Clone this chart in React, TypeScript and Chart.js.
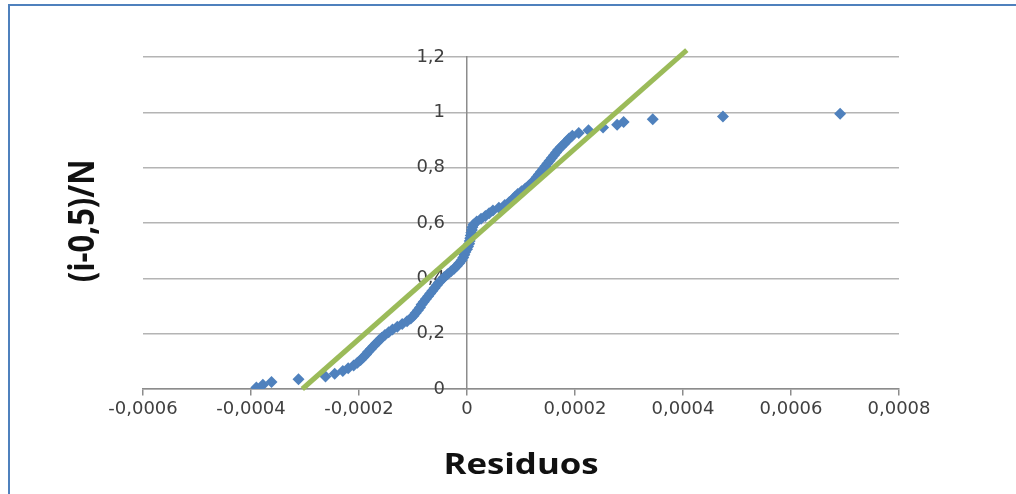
import React, { useEffect, useRef } from 'react';
import { Chart, registerables } from 'chart.js';

Chart.register(...registerables);

// Sorted residuals (x) and their plotting positions (i-0,5)/N (y)
const residuals = [
  -0.000390, -0.000378, -0.000362, -0.000312, -0.000262, -0.000245, -0.000230, -0.000220, -0.000210, -0.000203,
  -0.000197, -0.000192, -0.000187, -0.000183, -0.000178, -0.000173, -0.000168, -0.000163, -0.000158, -0.000152,
  -0.000145, -0.000138, -0.000129, -0.000120, -0.000111, -0.000104, -0.000099, -0.000095, -0.000091, -0.000087,
  -0.000084, -0.000080, -0.000076, -0.000072, -0.000068, -0.000064, -0.000060, -0.000056, -0.000052, -0.000047,
  -0.000042, -0.000036, -0.000030, -0.000024, -0.000019, -0.000014, -0.000010, -0.000007, -0.000005, -0.000003,
  0.000000, 0.000002, 0.000004, 0.000005, 0.000006, 0.000007, 0.000008, 0.000009, 0.000010, 0.000012,
  0.000018, 0.000026, 0.000034, 0.000041, 0.000048, 0.000059, 0.000070, 0.000078, 0.000084, 0.000089,
  0.000094, 0.000101, 0.000108, 0.000114, 0.000120, 0.000125, 0.000129, 0.000133, 0.000137, 0.000141,
  0.000145, 0.000149, 0.000153, 0.000157, 0.000161, 0.000165, 0.000169, 0.000174, 0.000179, 0.000184,
  0.000189, 0.000195, 0.000207, 0.000225, 0.000252, 0.000278, 0.000290, 0.000344, 0.000474, 0.000691,
];

const probabilities = [
  0.005, 0.015, 0.025, 0.035, 0.045, 0.055, 0.065, 0.075, 0.085, 0.095,
  0.105, 0.115, 0.125, 0.135, 0.145, 0.155, 0.165, 0.175, 0.185, 0.195,
  0.205, 0.215, 0.225, 0.235, 0.245, 0.255, 0.265, 0.275, 0.285, 0.295,
  0.305, 0.315, 0.325, 0.335, 0.345, 0.355, 0.365, 0.375, 0.385, 0.395,
  0.405, 0.415, 0.425, 0.435, 0.445, 0.455, 0.465, 0.475, 0.485, 0.495,
  0.505, 0.515, 0.525, 0.535, 0.545, 0.555, 0.565, 0.575, 0.585, 0.595,
  0.605, 0.615, 0.625, 0.635, 0.645, 0.655, 0.665, 0.675, 0.685, 0.695,
  0.705, 0.715, 0.725, 0.735, 0.745, 0.755, 0.765, 0.775, 0.785, 0.795,
  0.805, 0.815, 0.825, 0.835, 0.845, 0.855, 0.865, 0.875, 0.885, 0.895,
  0.905, 0.915, 0.925, 0.935, 0.945, 0.955, 0.965, 0.975, 0.985, 0.995,
];

// Fitted (green) reference line end points
const fitLineX = [-0.000305, 0.000407];
const fitLineY = [0, 1.225];

const xTickLabels = ['-0,0006', '-0,0004', '-0,0002', '0', '0,0002', '0,0004', '0,0006', '0,0008'];
const yTickLabels = ['0', '0,2', '0,4', '0,6', '0,8', '1', '1,2'];

const xAxisTitle = 'Residuos';
const yAxisTitle = '(i-0,5)/N';

export default function App() {
  const ref = useRef<HTMLCanvasElement>(null);

  useEffect(() => {
    if (!ref.current) return;

    const decor = {
      id: 'decor',
      beforeDraw(chart: any) {
        const ctx = chart.ctx;
        ctx.save();
        ctx.fillStyle = '#ffffff';
        ctx.fillRect(0, 0, chart.width, chart.height);
        ctx.strokeStyle = '#4F81BD';
        ctx.lineWidth = 2;
        ctx.strokeRect(9, 5, 1300, 700);
        ctx.restore();
      },
      afterDraw(chart: any) {
        const ctx = chart.ctx;
        ctx.save();
        ctx.fillStyle = '#111111';
        ctx.font = 'bold 29px "Open Sans"';
        ctx.textAlign = 'center';
        ctx.textBaseline = 'alphabetic';
        ctx.save();
        ctx.translate(521, 474);
        ctx.scale(1.2, 1);
        ctx.fillText(xAxisTitle, 0, 0);
        ctx.restore();
        ctx.font = 'bold 31px "Open Sans"';
        ctx.textBaseline = 'middle';
        ctx.save();
        ctx.translate(84, 221);
        ctx.rotate(-Math.PI / 2);
        ctx.scale(1, 1.15);
        ctx.fillText(yAxisTitle, 0, 0);
        ctx.restore();
        ctx.restore();
      },
    };

    const tickFont = { family: '"DejaVu Sans"', size: 18 };

    const chart = new Chart(ref.current, {
      type: 'scatter',
      data: {
        datasets: [
          {
            label: 'fit',
            data: fitLineX.map((x, i) => ({ x, y: fitLineY[i] })),
            showLine: true,
            borderColor: '#9BBB59',
            backgroundColor: '#9BBB59',
            borderWidth: 5,
            pointRadius: 0,
            clip: false,
            order: 0,
          },
          {
            label: 'residuos',
            data: residuals.map((x, i) => ({ x, y: probabilities[i] })),
            pointStyle: 'rectRot',
            pointRadius: 6,
            backgroundColor: '#4F81BD',
            borderColor: '#4F81BD',
            borderWidth: 0,
            order: 1,
          },
        ],
      },
      options: {
        animation: false,
        responsive: true,
        maintainAspectRatio: false,
        layout: { padding: { left: 143, right: 117, top: 57, bottom: 105 } },
        plugins: { legend: { display: false }, tooltip: { enabled: false } },
        scales: {
          x: {
            type: 'linear',
            position: { y: 0 } as any,
            min: -0.0006,
            max: 0.0008,
            ticks: {
              stepSize: 0.0002,
              autoSkip: false,
              maxRotation: 0,
              padding: 4,
              color: '#404040',
              font: tickFont,
              callback: (_v: any, i: number) => xTickLabels[i],
            },
            grid: { drawOnChartArea: false, drawTicks: true, tickLength: 6, color: '#8c8c8c', lineWidth: 1.5 },
            border: { color: '#8c8c8c', width: 1.5 },
          },
          y: {
            type: 'linear',
            position: { x: 0 } as any,
            min: 0,
            max: 1.2,
            ticks: { stepSize: 0.2, display: false },
            grid: { drawTicks: false, color: '#b4b4b4', lineWidth: 1.5 },
            border: { color: '#8c8c8c', width: 1.5 },
          },
          yLabels: {
            type: 'linear',
            axis: 'y',
            position: { x: -0.0000407 } as any,
            min: 0,
            max: 1.2,
            ticks: {
              stepSize: 0.2,
              color: '#404040',
              font: tickFont,
              callback: (_v: any, i: number) => yTickLabels[i],
            },
            grid: { display: false, drawTicks: false },
            border: { display: false },
          },
        },
      },
      plugins: [decor],
    });

    return () => chart.destroy();
  }, []);

  return (
    <div style={{ position: 'fixed', left: 0, top: 0, width: 1016, height: 494, background: '#fff' }}>
      <canvas ref={ref} />
    </div>
  );
}
